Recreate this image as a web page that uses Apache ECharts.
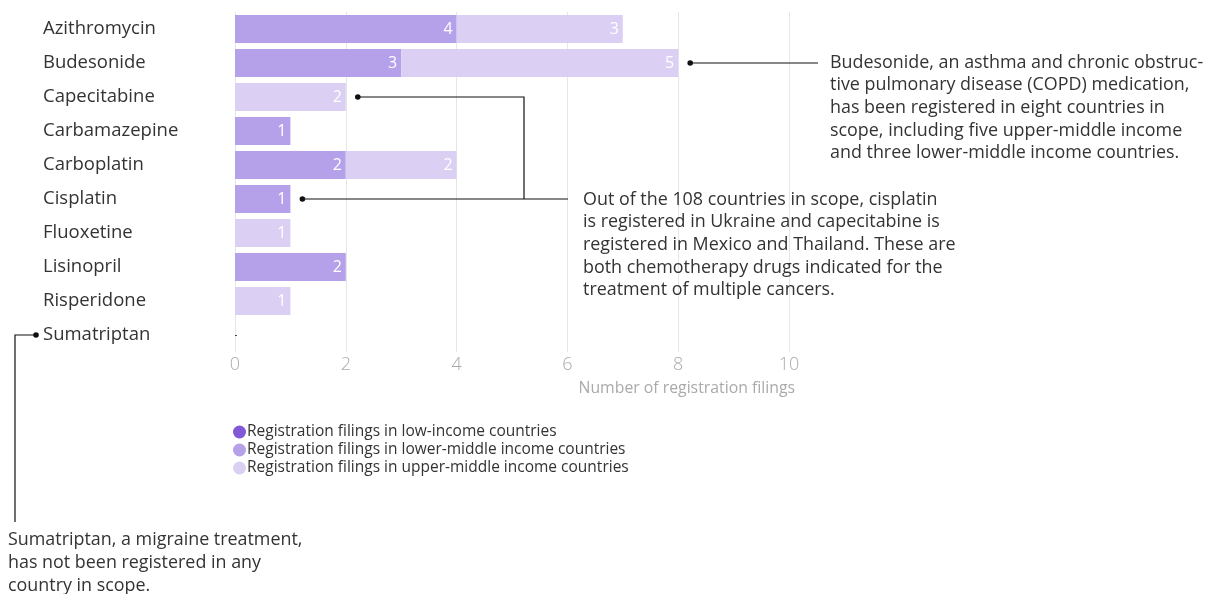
<!DOCTYPE html>
<html>
<head>
<meta charset="utf-8">
<script src="https://cdn.jsdelivr.net/npm/echarts@6/dist/echarts.min.js"></script>
<style>
  html, body { margin: 0; padding: 0; background: #fff; }
  #chart { width: 1206px; height: 594px; }
</style>
</head>
<body>
<div id="chart"></div>
<script>
const drugs = ["Azithromycin", "Budesonide", "Capecitabine", "Carbamazepine", "Carboplatin",
  "Cisplatin", "Fluoxetine", "Lisinopril", "Risperidone", "Sumatriptan"];
const lowIncome = [0, 0, 0, 0, 0, 0, 0, 0, 0, 0];
const lowerMiddle = [4, 3, 0, 1, 2, 1, 0, 2, 0, 0];
const upperMiddle = [3, 5, 2, 0, 2, 0, 1, 0, 1, 0];
const xTicks = [0, 2, 4, 6, 8, 10];

const seriesNames = [
  "Registration filings in low-income countries",
  "Registration filings in lower-middle income countries",
  "Registration filings in upper-middle income countries"
];
const colors = ["#8257d8", "#b5a0ea", "#dbd0f4"];

const font = "'Open Sans', sans-serif";
const chart = echarts.init(document.getElementById("chart"));

// bar labels only when there is something to show
const barLabel = {
  show: true,
  position: "insideRight",
  color: "#fff",
  fontFamily: font,
  fontSize: 16,
  distance: 4,
  formatter: p => (p.value > 0 ? p.value : "")
};

const option = {
  animation: false,
  grid: { left: 235, right: 417, top: 12, height: 340 },
  legend: {
    orient: "vertical",
    left: 228,
    top: 419,
    icon: "circle",
    itemWidth: 13,
    itemHeight: 13,
    itemGap: 2,
    selectedMode: false,
    textStyle: { color: "#333", fontFamily: font, fontSize: 15.5, padding: [0, 0, 0, -4] },
    data: seriesNames
  },
  xAxis: {
    type: "value",
    min: 0,
    max: 10,
    interval: 2,
    name: "Number of registration filings",
    nameLocation: "end",
    nameGap: 0,
    nameTextStyle: {
      color: "#aaa", fontFamily: font, fontSize: 15.8,
      align: "right", verticalAlign: "top", padding: [28, -6, 0, 0]
    },
    axisLine: { show: false },
    axisTick: { show: false },
    axisLabel: {
      color: "#aaa", fontFamily: font, fontSize: 18, fontWeight: 300, margin: 4,
      formatter: v => (xTicks.includes(v) ? v : "")
    },
    splitLine: { lineStyle: { color: "#e6e6e6", width: 1 } }
  },
  yAxis: {
    type: "category",
    inverse: true,
    data: drugs,
    axisLine: { show: false },
    axisTick: { show: true, inside: true, alignWithLabel: true, length: 2, lineStyle: { color: "#444" } },
    axisLabel: {
      color: "#333", fontFamily: font, fontSize: 18.5, align: "left", margin: 192
    }
  },
  series: [
    { name: seriesNames[0], type: "bar", stack: "all", data: lowIncome, barWidth: 28,
      itemStyle: { color: colors[0] }, label: barLabel },
    { name: seriesNames[1], type: "bar", stack: "all", data: lowerMiddle, barWidth: 28,
      itemStyle: { color: colors[1] }, label: barLabel },
    { name: seriesNames[2], type: "bar", stack: "all", data: upperMiddle, barWidth: 28,
      itemStyle: { color: colors[2] }, label: barLabel }
  ]
};
chart.setOption(option);

// annotations, anchored to the bar ends via the chart's own scales
const tot = drugs.map((d, i) => lowIncome[i] + lowerMiddle[i] + upperMiddle[i]);
const px = (v, i) => chart.convertToPixel({ gridIndex: 0 }, [v, drugs[i]]);
const line = pts => ({ type: "polyline", shape: { points: pts }, style: { stroke: "#111", lineWidth: 1.2, fill: null } });
const dot = p => ({ type: "circle", shape: { cx: p[0], cy: p[1], r: 2.8 }, style: { fill: "#111" } });
const note = (x, y, text) => ({
  type: "text", x: x, y: y,
  style: { text: text, fill: "#333", font: "17.9px " + font, lineHeight: 22.6, verticalAlign: "middle" }
});

const bud = px(tot[1], 1); bud[0] += 12;
const cap = px(tot[2], 2); cap[0] += 12;
const cis = px(tot[5], 5); cis[0] += 12;
const suma = [36, px(0, 9)[1]];

chart.setOption({
  graphic: [
    line([bud, [818, bud[1]]]), dot(bud),
    note(830, bud[1] + 45, "Budesonide, an asthma and chronic obstruc-\ntive pulmonary disease (COPD) medication,\nhas been registered in eight countries in\nscope, including five upper-middle income\nand three lower-middle income countries."),
    line([cap, [524, cap[1]], [524, cis[1]]]), dot(cap),
    line([cis, [568, cis[1]]]), dot(cis),
    note(583, cis[1] + 46, "Out of the 108 countries in scope, cisplatin\nis registered in Ukraine and capecitabine is\nregistered in Mexico and Thailand. These are\nboth chemotherapy drugs indicated for the\ntreatment of multiple cancers."),
    line([suma, [15, suma[1]], [15, 522]]), dot(suma),
    note(8, 563, "Sumatriptan, a migraine treatment,\nhas not been registered in any\ncountry in scope.")
  ]
});
</script>
</body>
</html>
